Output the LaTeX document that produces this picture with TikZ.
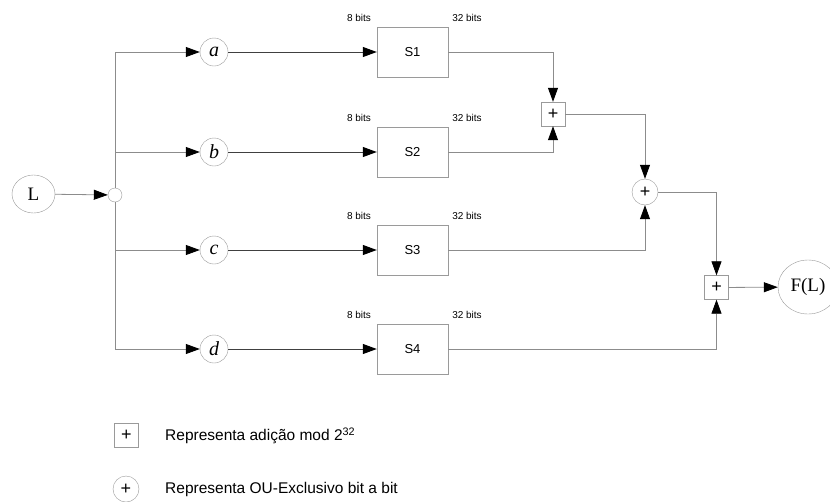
\documentclass[tikz,border=0pt]{standalone}
\usepackage{fontspec}
\setmainfont{Liberation Sans}
\newfontfamily\serifrm{Liberation Serif}
\usetikzlibrary{arrows.meta,shapes.geometric}
\definecolor{ln}{HTML}{8C8C8C}
\definecolor{bd}{HTML}{9A9A9A}
\begin{document}
\begin{tikzpicture}[x=1pt,y=-1pt,
  conn/.style={draw=ln, line width=0.8pt},
  dark/.style={draw=black!75, line width=1pt},
  arr/.style={-{Triangle[length=14pt,width=10pt,color=black]}},
  var/.style={circle, draw=bd, fill=white, minimum size=28pt, inner sep=0pt, font=\serifrm\itshape\fontsize{20}{20}\selectfont},
  big/.style={ellipse, draw=bd, fill=white, inner sep=0pt, font=\serifrm\fontsize{19}{19}\selectfont},
  sbox/.style={rectangle, draw=bd, fill=white, minimum width=71pt, minimum height=50pt, inner sep=0pt, font=\fontsize{13}{13}\selectfont},
  addbox/.style={rectangle, draw=bd, fill=white, minimum size=24pt, inner sep=0pt, font=\fontsize{18}{18}\selectfont},
  xorc/.style={circle, draw=bd, fill=white, minimum size=26pt, inner sep=0pt, font=\fontsize{18}{18}\selectfont},
  bits/.style={font=\fontsize{10}{10}\selectfont, inner sep=0pt},
  legend/.style={font=\fontsize{15.5}{15.5}\selectfont, anchor=west, inner sep=0pt}
]
\clip (0,0) rectangle (830,501);
% input
\node[big, minimum width=43pt, minimum height=38pt] (L) at (33.5,194) {L};
\node[circle, draw=bd, fill=white, minimum size=14pt, inner sep=0pt] (J) at (115,195) {};
% variables
\node[var] (a) at (214,52) {a};
\node[var] (b) at (214,152) {b};
\node[var] (c) at (214,250) {c};
\node[var] (d) at (214,349) {d};
% S-boxes
\node[sbox] (S1) at (412.5,52) {S1};
\node[sbox] (S2) at (412.5,152) {S2};
\node[sbox] (S3) at (412.5,250) {S3};
\node[sbox] (S4) at (412.5,349) {S4};
% bit labels
\node[bits] (i1) at (359,18) {8 bits};
\node[bits] (o1) at (467,18) {32 bits};
\node[bits] (i2) at (359,118) {8 bits};
\node[bits] (o2) at (467,118) {32 bits};
\node[bits] (i3) at (359,216) {8 bits};
\node[bits] (o3) at (467,216) {32 bits};
\node[bits] (i4) at (359,315) {8 bits};
\node[bits] (o4) at (467,315) {32 bits};
% operators
\node[addbox] (add1) at (553,114) {+};
\node[xorc] (xor) at (645,192) {+};
\node[addbox] (add2) at (716.5,287.5) {+};
\node[big, minimum width=60pt, minimum height=54pt] (FL) at (808,287) {F(L)};
% connectors
\draw[conn,arr] (L) -- (J);
\draw[conn,arr] (J.north) |- (a.west);
\draw[conn,arr] (J.north) |- (b.west);
\draw[conn,arr] (J.south) |- (c.west);
\draw[conn,arr] (J.south) |- (d.west);
\draw[dark,arr] (a) -- (S1);
\draw[dark,arr] (b) -- (S2);
\draw[dark,arr] (c) -- (S3);
\draw[dark,arr] (d) -- (S4);
\draw[conn,arr] (S1.east) -| (add1.north);
\draw[conn,arr] (S2.east) -| (add1.south);
\draw[conn,arr] (add1.east) -| (xor.north);
\draw[conn,arr] (S3.east) -| (xor.south);
\draw[conn,arr] (xor.east) -| (add2.north);
\draw[conn,arr] (S4.east) -| (add2.south);
\draw[conn,arr] (add2) -- (FL);
% legend
\node[addbox] (lg1) at (126.5,435.5) {+};
\node[legend] (t1) at (165,436) {Representa adição mod 2\textsuperscript{32}};
\node[xorc] (lg2) at (126,489) {+};
\node[legend] (t2) at (165,489) {Representa OU-Exclusivo bit a bit};
\end{tikzpicture}
\end{document}
